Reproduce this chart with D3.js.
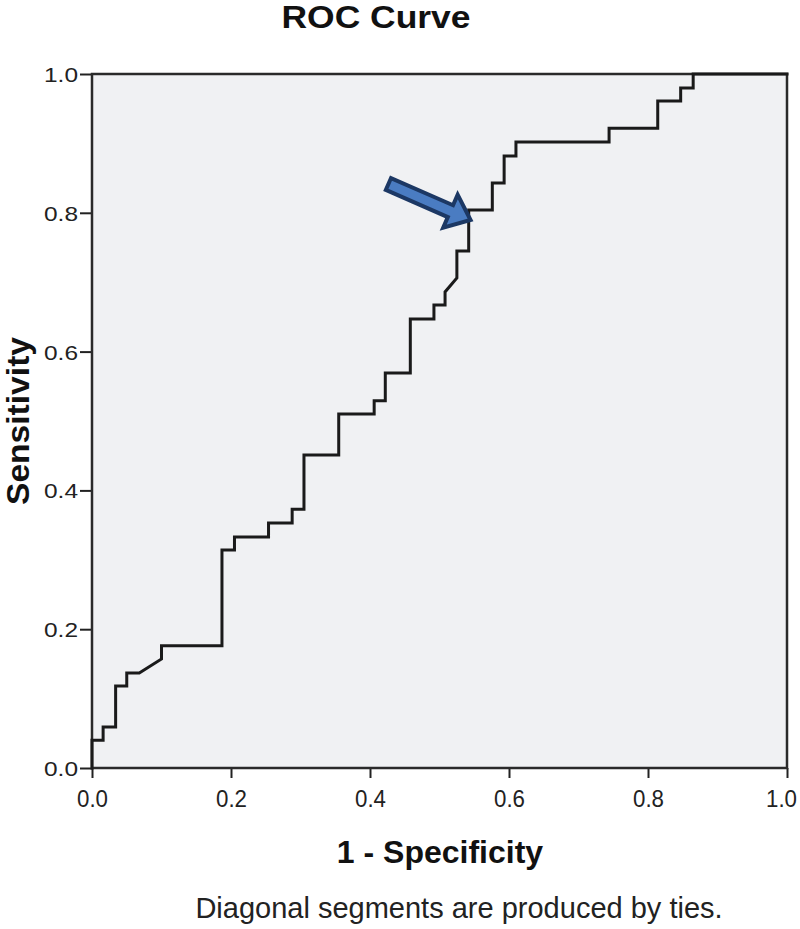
<!DOCTYPE html>
<html>
<head>
<meta charset="utf-8">
<script src="https://cdn.jsdelivr.net/npm/d3@7/dist/d3.min.js"></script>
<style>
  html, body { margin: 0; padding: 0; background: #ffffff; }
  svg { display: block; font-family: "Liberation Sans", Arial, sans-serif; }
</style>
</head>
<body>
<div id="chart"></div>
<script>
// ---- data ----
const fpr = [0, 0, 0.016, 0.016, 0.034, 0.034, 0.050, 0.050, 0.068, 0.100, 0.100, 0.187, 0.187, 0.205, 0.205,
  0.254, 0.254, 0.288, 0.288, 0.305, 0.305, 0.355, 0.355, 0.406, 0.406, 0.422, 0.422, 0.458, 0.458,
  0.492, 0.492, 0.508, 0.508, 0.525, 0.525, 0.542, 0.542, 0.576, 0.576, 0.593, 0.593, 0.610, 0.610,
  0.744, 0.744, 0.814, 0.814, 0.847, 0.847, 0.865, 0.865, 1.0];
const tpr = [0, 0.040, 0.040, 0.059, 0.059, 0.118, 0.118, 0.137, 0.137, 0.157, 0.176, 0.176, 0.314, 0.314, 0.333,
  0.333, 0.353, 0.353, 0.373, 0.373, 0.451, 0.451, 0.510, 0.510, 0.529, 0.529, 0.569, 0.569, 0.647,
  0.647, 0.667, 0.667, 0.686, 0.706, 0.745, 0.745, 0.804, 0.804, 0.843, 0.843, 0.882, 0.882, 0.902,
  0.902, 0.922, 0.922, 0.961, 0.961, 0.980, 0.980, 1.0, 1.0];
const xTicks = [0, 0.2, 0.4, 0.6, 0.8, 1.0];
const yTicks = [0, 0.2, 0.4, 0.6, 0.8, 1.0];
const arrowTail = [0.4265, 0.8415];   // annotation arrow (data units)
const arrowTip = [0.5447, 0.7896];
const title = "ROC Curve";
const xLabel = "1 - Specificity";
const yLabel = "Sensitivity";
const footnote = "Diagonal segments are produced by ties.";

// ---- layout ----
const W = 800, H = 929;
const pL = 92, pR = 787, pT = 74, pB = 768;

const svg = d3.select("#chart").append("svg").attr("width", W).attr("height", H);

const x = d3.scaleLinear().domain([0, 1]).range([pL, pR]);
const y = d3.scaleLinear().domain([0, 1]).range([pB, pT]);

// plot background
svg.append("rect")
  .attr("x", pL).attr("y", pT)
  .attr("width", pR - pL).attr("height", pB - pT)
  .attr("fill", "#f0f1f3");

// axes
const xAxis = svg.append("g")
  .attr("transform", `translate(0,${pB})`)
  .call(d3.axisBottom(x).tickValues(xTicks).tickSize(10).tickSizeOuter(0).tickFormat(d3.format(".1f")));
xAxis.select(".domain").remove();
xAxis.selectAll(".tick line").attr("stroke", "#222").attr("stroke-width", 2);
xAxis.selectAll(".tick text")
  .attr("y", 0).attr("dy", null)
  .attr("transform", (d) => `translate(${d === 1 ? -6 : 0},39)`)
  .attr("font-size", 24).attr("fill", "#222")
  .attr("textLength", 31).attr("lengthAdjust", "spacingAndGlyphs")
  .attr("font-family", "'Liberation Sans', Arial, sans-serif");

const yAxis = svg.append("g")
  .attr("transform", `translate(${pL},0)`)
  .call(d3.axisLeft(y).tickValues(yTicks).tickSize(12).tickSizeOuter(0).tickFormat(d3.format(".1f")));
yAxis.select(".domain").remove();
yAxis.selectAll(".tick line").attr("stroke", "#222").attr("stroke-width", 2);
yAxis.selectAll(".tick text")
  .attr("x", -14).attr("dy", "0.36em")
  .attr("font-size", 21).attr("fill", "#222")
  .attr("textLength", 34).attr("lengthAdjust", "spacingAndGlyphs")
  .attr("font-family", "'Liberation Sans', Arial, sans-serif");

// frame
svg.append("rect")
  .attr("x", pL).attr("y", pT)
  .attr("width", pR - pL).attr("height", pB - pT)
  .attr("fill", "none").attr("stroke", "#2a2a2a").attr("stroke-width", 2.5);

// ROC curve
const pts = fpr.map((d, i) => [d, tpr[i]]);
const line = d3.line().x(d => x(d[0])).y(d => y(d[1]));
svg.append("path")
  .attr("d", line(pts))
  .attr("fill", "none")
  .attr("stroke", "#1a1a1a")
  .attr("stroke-width", 3)
  .attr("stroke-linejoin", "miter")
  .attr("stroke-linecap", "square");

// arrow annotation
(function () {
  const tx = x(arrowTail[0]), ty = y(arrowTail[1]);
  const px = x(arrowTip[0]), py = y(arrowTip[1]);
  const dx = px - tx, dy = py - ty, L = Math.hypot(dx, dy);
  const ux = dx / L, uy = dy / L, nx = -uy, ny = ux;
  const sw = 6.5, hw = 18, hl = 22;
  const bx = px - ux * hl, by = py - uy * hl;
  const P = [
    [tx + nx * sw, ty + ny * sw],
    [bx + nx * sw, by + ny * sw],
    [bx + nx * hw, by + ny * hw],
    [px, py],
    [bx - nx * hw, by - ny * hw],
    [bx - nx * sw, by - ny * sw],
    [tx - nx * sw, ty - ny * sw]
  ];
  svg.append("polygon")
    .attr("points", P.map(p => p.join(",")).join(" "))
    .attr("fill", "#4a7cc2")
    .attr("stroke", "#1c3864")
    .attr("stroke-width", 4)
    .attr("stroke-linejoin", "miter");
})();

// titles
svg.append("text")
  .attr("x", 376).attr("y", 28)
  .attr("text-anchor", "middle")
  .attr("font-size", 32).attr("font-weight", "bold").attr("fill", "#111")
  .attr("textLength", 189).attr("lengthAdjust", "spacingAndGlyphs")
  .text(title);

svg.append("text")
  .attr("x", 440).attr("y", 863)
  .attr("text-anchor", "middle")
  .attr("font-size", 32).attr("font-weight", "bold").attr("fill", "#111")
  .text(xLabel);

svg.append("text")
  .attr("transform", "translate(29,421) rotate(-90)")
  .attr("text-anchor", "middle")
  .attr("font-size", 31).attr("font-weight", "bold").attr("fill", "#111")
  .attr("textLength", 168).attr("lengthAdjust", "spacingAndGlyphs")
  .text(yLabel);

svg.append("text")
  .attr("x", 459).attr("y", 918)
  .attr("text-anchor", "middle")
  .attr("font-size", 29).attr("fill", "#222")
  .text(footnote);
</script>
</body>
</html>
